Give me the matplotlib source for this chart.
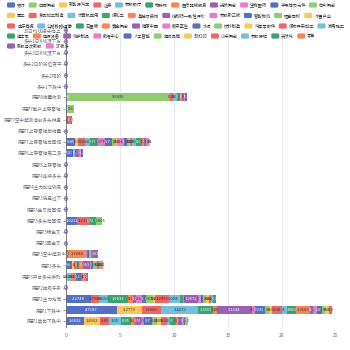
import matplotlib
matplotlib.use("Agg")
import matplotlib.pyplot as plt
import numpy as np
from matplotlib.patches import FancyBboxPatch

plt.rcParams["font.family"] = ["Noto Sans CJK SC", "DejaVu Sans"]

# echarts default palette
palette = ["#5470c6", "#91cc75", "#fac858", "#ee6666", "#73c0de",
           "#3ba272", "#fc8452", "#9a60b4", "#ea7ccc"]

series_names = [
    "银行", "白酒概念", "新能源汽车", "证券", "参股银行", "物联网", "医疗器械服务",
    "光伏概念", "生物医药", "半导体及元件", "芯片概念",
    "军工", "食品加工制造", "计算机应用", "煤化工", "基础及装饰", "仿制药一致性评价",
    "参股新三板", "智能物流", "租售同权", "冰雪产业",
    "电子商务", "公路铁路运输", "石墨烯", "黄金概念", "健康中国", "数字孪生", "水泥",
    "饮料制造", "汽车零部件", "煤炭开采加工", "家用轻工",
    "迪士尼", "电源设备", "化学制品", "数据中心", "人工智能", "超级品牌", "3D打印",
    "小米概念", "参股保险", "天然气", "零售",
    "新股与次新股", "ST板块",
]
legend_rows = [11, 10, 11, 11, 2]

# categories from bottom to top
categories = [
    "底部1卖出下跌中", "底部1下跌中", "底部2主力抢筹", "底部2抽吸乐形",
    "底部3平台多头排列", "底部3多头", "底部3空中起涨", "底部3回金叉", "底部3稀金叉",
    "底部3多头后回调", "底部3金叉后回调", "底部3洗盘过下", "底部4主力加仓W底",
    "底部4连续多头", "底部5上穿零轴", "底部6上穿零轴第二浪", "底部7上穿零轴后回调",
    "底部7上穿零轴后缩量", "底部7空中起涨消前多头排盘", "底部7散户上穿零轴",
    "底部8缩量收涨", "多头1下跌中", "多头2阳阶", "多头2日阶段近变平",
    "多头3日K线顶下方", "多头1日K线顶下方", "30日均线拐头向上",
]

# values per category, in series order (missing tail = 0)
b1_sell = [1.6632, 0, 1.4962, 0.85, 1.05, 0.95, 0.4, 0.55, 0.3, 0.7, 0.45, 0.35,
           0.6, 0.3, 0.5, 0.25, 0.3, 0.2, 0.15, 0.2]
b1_down = [4.7187, 0, 2.2779, 1.8389, 3.4279, 1.3101, 0.45, 3.1544, 0.3, 0.9311,
           0.35, 0.3, 0.98, 0.4, 0.8567, 1.3183, 0.3, 0.3, 0.45, 0.35, 0.3, 0.3]
b2_main = [2.2748, 0, 0, 0.7558, 0.8156, 1.9031, 0.5, 0.2, 0.6, 0.4, 0.5678, 0.2,
           1.2892, 1.0088, 0.3, 0.1, 1.2672, 0.3, 0.2, 0.25, 0.3, 0.2, 0.2, 0.3]
b3_platform = [0, 0, 0.12, 0, 0.38, 0, 0.3, 0, 0.15, 0.42, 0, 0, 0.2, 0.1, 0, 0.2, 0.18]
b3_bull = [0.5647, 0, 0.2, 0.3, 0, 0.15, 0.35, 0.6634, 0.1, 0.15, 0.3819, 0, 0.2,
           0.3, 0, 0.1]
b3_air = [0, 0.05, 0, 0, 0, 0.1, 1.7284, 0, 0.1, 0.15, 0.2, 0, 0.1, 0, 0, 0, 0.4918]
b3_bull_pull = [1.0211, 0, 0, 1.2311, 0, 0.5624, 0, 0, 0, 0, 0.4806]
b6_wave = [0.6213, 0, 0, 0, 0.2, 0, 0, 0.41, 0.15, 0.2]
b7_pull = [0.85, 0, 0.3, 0.6, 0.45, 0.797, 0, 0, 0.5776, 0.72, 0.35, 0.1, 0, 0, 0,
           0, 0, 0.6, 0.3, 0.15, 0.1, 0.25, 0.3, 0.6, 0.2, 0.2, 0.25, 0, 0, 0.1]
b7_air = [0.2, 0, 0, 0.25, 0, 0, 0, 0.15]
b7_retail = [0.1, 0.6]
b8_shrink = [0.05, 9.5435, 0, 0.35, 0.3, 0.3, 0.2, 0.2, 0.1, 0.2]

rows = {
    "底部1卖出下跌中": b1_sell, "底部1下跌中": b1_down, "底部2主力抢筹": b2_main,
    "底部3平台多头排列": b3_platform, "底部3多头": b3_bull, "底部3空中起涨": b3_air,
    "底部3多头后回调": b3_bull_pull, "底部6上穿零轴第二浪": b6_wave,
    "底部7上穿零轴后回调": b7_pull, "底部7空中起涨消前多头排盘": b7_air,
    "底部7散户上穿零轴": b7_retail, "底部8缩量收涨": b8_shrink,
}

data = np.zeros((len(series_names), len(categories)))
for j, cat in enumerate(categories):
    vals = rows.get(cat, [])
    data[:len(vals), j] = vals

W, H = 350, 350
fig = plt.figure(figsize=(3.5, 3.5), dpi=100)
ax = fig.add_axes([66 / W, 1 - 327 / H, 270 / W, (327 - 24.6) / H])

y = np.arange(len(categories))
left = np.zeros(len(categories))
dark = {"#5470c6", "#3ba272", "#9a60b4"}
for i in range(len(series_names)):
    c = palette[i % 9]
    vals = data[i]
    ax.barh(y, vals, left=left, height=0.72, color=c, zorder=2)
    for j in np.nonzero(vals)[0]:
        ax.text(left[j] + vals[j] / 2, y[j], f"{round(vals[j], 4):g}",
                ha="center", va="center", fontsize=3,
                color="white" if c in dark else "#333333", zorder=3)
    left += vals

# rows without data show the stacked "0" labels at the origin
for j in np.where(left == 0)[0]:
    ax.text(0, y[j], "0", ha="center", va="center", fontsize=5,
            fontweight="bold", color="#6f64a6", zorder=3)

ax.set_xlim(0, 25)
ax.set_ylim(-0.5, len(categories) - 0.5)
ax.set_xticks(np.arange(0, 26, 5))
ax.set_yticks(y)
ax.set_yticklabels(categories)
ax.grid(axis="x", color="#e0e6f1", linewidth=0.6, zorder=0)
for s in ["top", "right", "bottom"]:
    ax.spines[s].set_visible(False)
ax.spines["left"].set_color("#6e7079")
ax.spines["left"].set_linewidth(0.6)
ax.tick_params(axis="y", length=2, width=0.5, color="#6e7079",
               labelsize=3.3, labelcolor="#6e7079", pad=1)
ax.tick_params(axis="x", length=0, labelsize=3.6, labelcolor="#6e7079", pad=4)

# legend laid out in rows like the echarts one
renderer = fig.canvas.get_renderer()
row_y = [5, 15.5, 26, 36, 46]
k = 0
for r, n in enumerate(legend_rows):
    x = 7
    yy = row_y[r]
    for _ in range(n):
        c = palette[k % 9]
        fig.patches.append(FancyBboxPatch(
            (x / W, 1 - (yy + 2.6) / H), 8 / W, 5.2 / H,
            boxstyle="round,pad=0,rounding_size=0.004",
            transform=fig.transFigure, facecolor=c, edgecolor="none", zorder=5))
        t = fig.text((x + 10) / W, 1 - yy / H, series_names[k], fontsize=3.1,
                     color="#333333", va="center", ha="left", zorder=6)
        w = t.get_window_extent(renderer).width
        x += 10 + w + 3.2
        k += 1

fig.savefig("out.png", dpi=100)
